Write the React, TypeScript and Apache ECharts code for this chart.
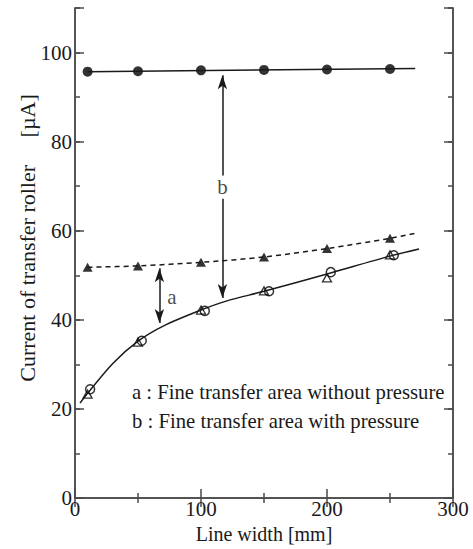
import React, { useEffect, useRef } from "react";
import * as echarts from "echarts";

// Measured points
const xVals = [10, 50, 100, 150, 200, 250];
const withPressure = [95.7, 95.8, 96.0, 96.1, 96.2, 96.3];
const withoutPressure = [51.8, 52.1, 52.9, 54.1, 56.0, 58.3];
const openCircleX = [12, 53, 103, 154, 203, 253];
const openCircleY = [24.4, 35.3, 42.0, 46.4, 50.7, 54.5];
const openTriX = [10, 50, 100, 150, 200, 250];
const openTriY = [23.3, 35.0, 42.2, 46.5, 49.4, 54.6];

// Fitted curves
const fitTopX = [10, 270];
const fitTopY = [95.7, 96.4];
const fitDashX = [10, 50, 100, 150, 200, 250, 270];
const fitDashY = [51.8, 52.1, 52.9, 54.1, 56.0, 58.3, 59.4];
const fitLowX = [4, 10, 30, 50, 70, 100, 120, 150, 200, 250, 273];
const fitLowY = [21.3, 23.5, 30.2, 35.2, 38.6, 42.2, 44.2, 46.4, 50.3, 54.3, 55.9];

// Arrows
const arrowAX = 67;
const arrowAY = [51.6, 39.3];
const arrowBX = 117;
const arrowBY = [94.9, 72.4, 67.2, 44.9];
const arrowLabels: [number, number, string][] = [
  [77, 45.2, "a"],
  [117, 69.8, "b"],
];

const noteA = "a : Fine transfer area without pressure";
const noteB = "b : Fine transfer area with pressure";
const yTitle = "Current of transfer roller     [µA]";
const xTitle = "Line width [mm]";

const FONT = "'Liberation Serif', 'Times New Roman', serif";
const INK = "#1a1a1a";
const AXIS = "#4a4a4a";

const zip = (xs: number[], ys: number[]) => xs.map((x, i) => [x, ys[i]]);

export default function App() {
  const ref = useRef<HTMLDivElement>(null);
  useEffect(() => {
    if (!ref.current) return;
    const chart = echarts.init(ref.current, null, { renderer: "svg" });
    const axisLine = { show: true, lineStyle: { color: AXIS, width: 1.5 } };
    const label = { color: INK, fontFamily: FONT, fontSize: 21 };
    const yBase = {
      type: "value" as const,
      min: 0,
      max: 110,
      splitLine: { show: false },
      axisLine,
    };
    chart.setOption({
      animation: false,
      backgroundColor: "#ffffff",
      textStyle: { fontFamily: FONT },
      grid: { left: 75, right: 20, top: 8, bottom: 48 },
      xAxis: [
        {
          type: "value",
          min: 0,
          max: 300,
          interval: 100,
          position: "bottom",
          axisLine,
          splitLine: { show: false },
          axisTick: { inside: true, length: 9, lineStyle: { color: AXIS, width: 1.5 } },
          minorTick: { show: true, splitNumber: 2, length: 5, lineStyle: { color: AXIS, width: 1.5 } },
          axisLabel: { ...label, margin: 0 },
          name: xTitle,
          nameLocation: "middle",
          nameGap: 26,
          nameTextStyle: { ...label, fontSize: 20 },
        },
        {
          type: "value",
          min: 0,
          max: 300,
          interval: 100,
          position: "top",
          axisLine,
          splitLine: { show: false },
          axisTick: { inside: true, length: 9, lineStyle: { color: AXIS, width: 1.5 } },
          minorTick: { show: true, splitNumber: 2, length: 5, lineStyle: { color: AXIS, width: 1.5 } },
          axisLabel: { show: false },
        },
      ],
      yAxis: [
        {
          ...yBase,
          interval: 20,
          position: "left",
          axisTick: { inside: true, length: 9, lineStyle: { color: AXIS, width: 1.5 } },
          axisLabel: {
            ...label,
            margin: 3,
            formatter: (v: number) => (v > 100 ? "" : String(v)),
          },
        },
        {
          ...yBase,
          interval: 10,
          position: "left",
          axisTick: { inside: true, length: 5, lineStyle: { color: AXIS, width: 1.5 } },
          axisLabel: { show: false },
        },
        {
          ...yBase,
          interval: 20,
          position: "right",
          axisTick: { inside: true, length: 9, lineStyle: { color: AXIS, width: 1.5 } },
          axisLabel: { show: false },
        },
        {
          ...yBase,
          interval: 10,
          position: "right",
          axisTick: { inside: true, length: 5, lineStyle: { color: AXIS, width: 1.5 } },
          axisLabel: { show: false },
        },
      ],
      series: [
        {
          type: "line",
          data: zip(fitTopX, fitTopY),
          showSymbol: false,
          lineStyle: { color: INK, width: 1.5 },
          markLine: {
            silent: true,
            symbol: ["arrow", "arrow"],
            symbolSize: [7, 14],
            label: { show: false },
            lineStyle: { color: INK, width: 1.5, type: "solid" },
            data: [
              [
                { coord: [arrowAX, arrowAY[0]] },
                { coord: [arrowAX, arrowAY[1]] },
              ],
              [
                { coord: [arrowBX, arrowBY[0]], symbol: "arrow" },
                { coord: [arrowBX, arrowBY[1]], symbol: "none" },
              ],
              [
                { coord: [arrowBX, arrowBY[2]], symbol: "none" },
                { coord: [arrowBX, arrowBY[3]], symbol: "arrow" },
              ],
            ],
          },
        },
        {
          type: "line",
          data: zip(fitDashX, fitDashY),
          smooth: 0.3,
          showSymbol: false,
          lineStyle: { color: INK, width: 1.5, type: [5, 4] },
        },
        {
          type: "line",
          data: zip(fitLowX, fitLowY),
          smooth: 0.3,
          showSymbol: false,
          lineStyle: { color: INK, width: 1.5 },
        },
        {
          type: "scatter",
          data: zip(xVals, withPressure),
          symbol: "circle",
          symbolSize: 10,
          itemStyle: { color: "#000" },
        },
        {
          type: "scatter",
          data: zip(xVals, withoutPressure),
          symbol: "triangle",
          symbolSize: [10, 9],
          itemStyle: { color: "#000" },
        },
        {
          type: "scatter",
          data: zip(openCircleX, openCircleY),
          symbol: "circle",
          symbolSize: 9,
          itemStyle: { color: "#fff", borderColor: "#000", borderWidth: 1.5 },
        },
        {
          type: "scatter",
          data: zip(openTriX, openTriY),
          symbol: "triangle",
          symbolSize: [9, 8],
          itemStyle: { color: "rgba(255,255,255,0)", borderColor: "#000", borderWidth: 1.3 },
        },
        {
          type: "scatter",
          data: arrowLabels,
          symbolSize: 0,
          silent: true,
          label: {
            show: true,
            position: "inside",
            formatter: (p: any) => p.value[2],
            ...label,
          },
        },
      ],
      graphic: [
        {
          type: "text",
          x: 27,
          y: 238,
          rotation: Math.PI / 2,
          style: {
            text: yTitle,
            font: `22px ${FONT}`,
            fill: INK,
            align: "center",
            verticalAlign: "middle",
          },
        },
        {
          type: "text",
          x: 132,
          y: 392,
          style: { text: noteA, font: `20.7px ${FONT}`, fill: INK, align: "left", verticalAlign: "middle" },
        },
        {
          type: "text",
          x: 132,
          y: 421,
          style: { text: noteB, font: `20.7px ${FONT}`, fill: INK, align: "left", verticalAlign: "middle" },
        },
      ],
    });
    return () => chart.dispose();
  }, []);
  return (
    <div
      ref={ref}
      style={{ position: "fixed", left: 0, top: 0, width: 473, height: 549 }}
    />
  );
}
